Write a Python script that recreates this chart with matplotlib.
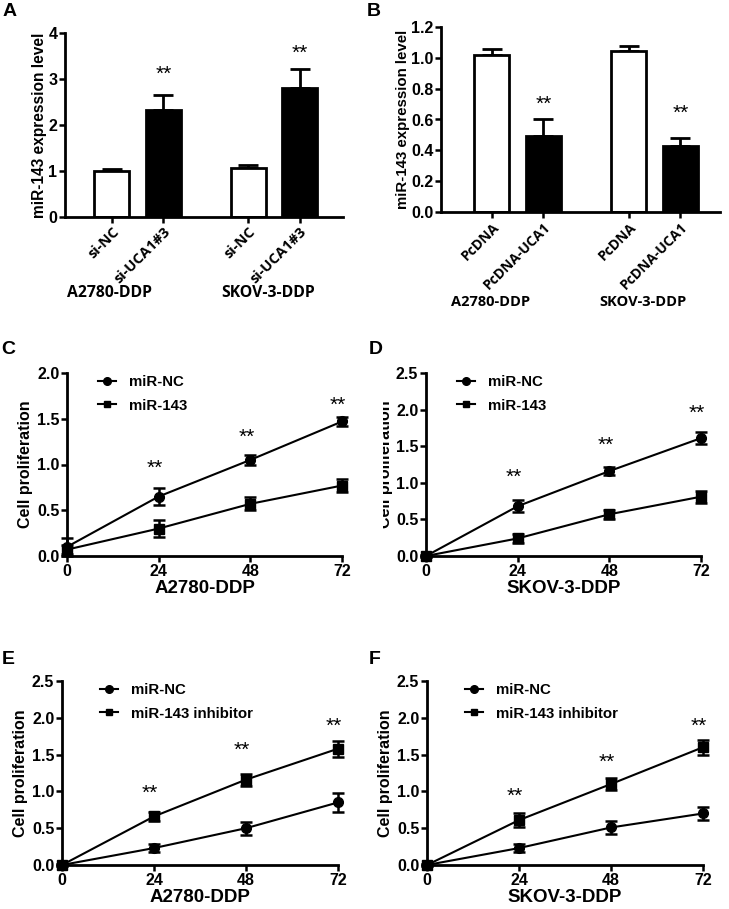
#!/usr/bin/env python3
"""miR-143 expression and cell proliferation panels (A-F)."""

import matplotlib
matplotlib.use("Agg")
import matplotlib.pyplot as plt
from matplotlib.lines import Line2D
from matplotlib.transforms import Bbox, TransformedBbox

plt.rcParams["font.family"] = ["Liberation Sans", "DejaVu Sans"]
plt.rcParams["font.weight"] = "bold"

# ---- panel A / B: bar data ----
a_labels = ["si-NC", "si-UCA1#3", "si-NC", "si-UCA1#3"]
a_values = [1.00, 2.33, 1.07, 2.80]
a_errors = [0.05, 0.33, 0.05, 0.42]
a_stars = [None, 3.1, None, 3.55]

b_labels = ["PcDNA", "PcDNA-UCA1", "PcDNA", "PcDNA-UCA1"]
b_values = [1.02, 0.49, 1.045, 0.43]
b_errors = [0.04, 0.11, 0.035, 0.05]
b_stars = [None, 0.70, None, 0.64]

groups = ["A2780-DDP", "SKOV-3-DDP"]

# ---- panels C-F: proliferation time courses ----
hours = [0, 24, 48, 72]

c_nc = [0.10, 0.65, 1.05, 1.47]
c_nc_err = [0.10, 0.09, 0.05, 0.05]
c_143 = [0.07, 0.30, 0.57, 0.77]
c_143_err = [0.05, 0.09, 0.07, 0.07]
c_stars = [None, 0.96, 1.30, 1.65]

d_nc = [0.0, 0.68, 1.16, 1.61]
d_nc_err = [0.02, 0.08, 0.05, 0.08]
d_143 = [0.0, 0.24, 0.57, 0.81]
d_143_err = [0.02, 0.06, 0.06, 0.08]
d_stars = [None, 1.08, 1.51, 1.95]

e_nc = [0.0, 0.23, 0.50, 0.85]
e_nc_err = [0.02, 0.06, 0.09, 0.13]
e_inh = [0.0, 0.66, 1.16, 1.58]
e_inh_err = [0.02, 0.06, 0.08, 0.11]
e_stars = [None, 0.97, 1.56, 1.88]

f_nc = [0.0, 0.23, 0.51, 0.70]
f_nc_err = [0.02, 0.06, 0.09, 0.09]
f_inh = [0.0, 0.61, 1.10, 1.60]
f_inh_err = [0.02, 0.09, 0.08, 0.10]
f_stars = [None, 0.93, 1.40, 1.88]

W, H = 729, 909
LABEL_FONT = ["Open Sans", "Liberation Sans"]


def px_axes(fig, left, right, top, bottom):
    return fig.add_axes([left / W, 1 - bottom / H, (right - left) / W, (bottom - top) / H])


def style(ax, labelsize=11.5):
    for s in ("top", "right"):
        ax.spines[s].set_visible(False)
    for s in ("left", "bottom"):
        ax.spines[s].set_linewidth(2)
    ax.tick_params(direction="out", length=4, width=1.8, labelsize=labelsize, pad=1.5)
    for lab in ax.get_xticklabels() + ax.get_yticklabels():
        lab.set_fontweight("bold")


def bar_panel(ax, labels, values, errors, stars, gap, ylim, yticks, yfmt, ylabel,
              tick_size, ylabel_size):
    pos = [0, 1, gap, gap + 1]
    colors = ["white", "black", "white", "black"]
    lower = [0] * len(values)
    ax.bar(pos, values, width=0.68, color=colors, edgecolor="black", linewidth=2, zorder=2)
    ax.errorbar(pos, values, yerr=[lower, errors], fmt="none", ecolor="black",
                elinewidth=2, capsize=7, capthick=2, zorder=1)
    for p, s in zip(pos, stars):
        if s is not None:
            ax.text(p, s, "**", ha="center", va="center", fontsize=15, fontweight="normal")
    ax.set_ylim(*ylim)
    ax.set_yticks(yticks)
    ax.set_yticklabels([yfmt.format(t) for t in yticks])
    ax.set_xticks(pos)
    ax.set_xticklabels(labels, rotation=45, ha="right", rotation_mode="anchor")
    ax.set_ylabel(ylabel, fontsize=ylabel_size, fontweight="bold", labelpad=1)
    style(ax)
    for lab in ax.get_xticklabels():
        lab.set_family(LABEL_FONT)
        lab.set_fontsize(tick_size)


def line_panel(ax, nc, nc_err, other, other_err, other_label, stars, ymax, xlabel, leg_x):
    ax.errorbar(hours, nc, yerr=nc_err, color="black", marker="o", markersize=7,
                linewidth=1.5, elinewidth=1.8, capsize=4, capthick=1.8,
                clip_on=False, zorder=3)
    ax.errorbar(hours, other, yerr=other_err, color="black", marker="s", markersize=6.5,
                linewidth=1.5, elinewidth=1.8, capsize=4, capthick=1.8,
                clip_on=False, zorder=3)
    for x, s in zip(hours, stars):
        if s is not None:
            ax.text(x - 1, s, "**", ha="center", va="center", fontsize=15, fontweight="normal")
    ax.set_xlim(0, 72)
    ax.set_xticks(hours)
    ticks = [i * 0.5 for i in range(int(ymax / 0.5) + 1)]
    ax.set_ylim(0, ymax)
    ax.set_yticks(ticks)
    ax.set_yticklabels([f"{t:.1f}" for t in ticks])
    ax.set_xlabel(xlabel, fontsize=13.5, fontweight="bold", labelpad=1)
    ax.set_ylabel("Cell proliferation", fontsize=11.5, fontweight="bold", labelpad=3)
    handles = [
        Line2D([], [], color="black", marker="o", markersize=5.5, linewidth=1.5),
        Line2D([], [], color="black", marker="s", markersize=5, linewidth=1.5),
    ]
    ax.legend(handles, ["miR-NC", other_label], loc="upper left",
              bbox_to_anchor=(leg_x, 1.02), frameon=False, borderaxespad=0,
              handlelength=1.2, handletextpad=0.9, labelspacing=0.62,
              prop={"size": 10.8, "weight": "bold"})
    style(ax)


fig = plt.figure(figsize=(W / 100, H / 100), dpi=100)

# A
axA = px_axes(fig, 65, 343, 33, 217)
bar_panel(axA, a_labels, a_values, a_errors, a_stars, 2.65, (0, 4), [0, 1, 2, 3, 4],
          "{:.0f}", "miR-143 expression level", 10.5, 11.2)
axA.set_xlim(-0.91, 4.49)
for gx, g in zip([110, 268], groups):
    fig.text(gx / W, 1 - 293 / H, g, ha="center", va="center", fontsize=11.3,
             fontweight="bold", family=LABEL_FONT)

# B
axB = px_axes(fig, 441, 720, 27, 212)
bar_panel(axB, b_labels, b_values, b_errors, b_stars, 2.66, (0, 1.2),
          [0, 0.2, 0.4, 0.6, 0.8, 1.0, 1.2], "{:.1f}", "miR-143 expression level", 10, 10.8)
axB.set_xlim(-0.99, 4.43)
for gx, g in zip([491, 643], groups):
    fig.text(gx / W, 1 - 302 / H, g, ha="center", va="center", fontsize=10.5,
             fontweight="bold", family=LABEL_FONT)

# C-F
axC = px_axes(fig, 67, 342, 373, 556)
line_panel(axC, c_nc, c_nc_err, c_143, c_143_err, "miR-143", c_stars, 2.0, groups[0], 0.09)
axD = px_axes(fig, 426, 701, 373, 556)
line_panel(axD, d_nc, d_nc_err, d_143, d_143_err, "miR-143", d_stars, 2.5, groups[1], 0.09)
# the original crop cuts off the left part of panel D's y label
axD.yaxis.set_label_coords(-0.12, 0.5)
clip = TransformedBbox(Bbox([[383 / W, 0], [1, 1]]), fig.transFigure)
axD.yaxis.label.set_clip_box(clip)
axD.yaxis.label.set_clip_on(True)
axE = px_axes(fig, 62, 338, 681, 865)
line_panel(axE, e_nc, e_nc_err, e_inh, e_inh_err, "miR-143 inhibitor", e_stars, 2.5,
           groups[0], 0.115)
axF = px_axes(fig, 427, 703, 681, 865)
line_panel(axF, f_nc, f_nc_err, f_inh, f_inh_err, "miR-143 inhibitor", f_stars, 2.5,
           groups[1], 0.115)

# panel letters
for letter, x, y in [("A", 10, 12), ("B", 374, 12), ("C", 8, 349), ("D", 376, 349),
                     ("E", 8, 660), ("F", 375, 660)]:
    fig.text(x / W, 1 - y / H, letter, ha="center", va="center", fontsize=14, fontweight="bold")

fig.savefig("out.png", dpi=100)
plt.close(fig)
